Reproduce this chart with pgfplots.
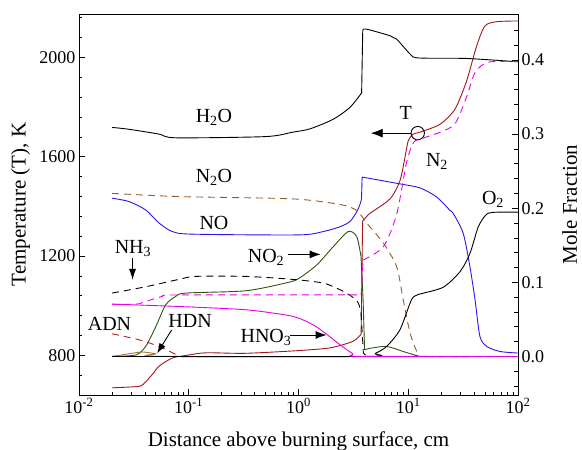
\documentclass[border=0pt]{standalone}
\usepackage{fontspec}
\setmainfont{Liberation Serif}
\usepackage{pgfplots}
\pgfplotsset{compat=1.18}
\usetikzlibrary{arrows.meta}

\definecolor{tred}{RGB}{165,20,25}
\definecolor{mag}{RGB}{230,0,230}
\definecolor{noblue}{RGB}{40,20,240}
\definecolor{ntwoo}{RGB}{150,90,40}
\definecolor{nogreen}{RGB}{45,85,15}
\definecolor{hdncol}{RGB}{165,115,55}
\definecolor{adncol}{RGB}{175,30,30}

\pgfplotsset{
  dualaxis/.style={
    scale only axis, width=439bp, height=381bp,
    at={(0,0)}, anchor=south west,
    xmin=0.01, xmax=100,
    tick align=inside,
    major tick length=6bp, minor tick length=3.5bp,
    every tick/.style={black, line width=0.7bp},
    axis line style={line width=0.9bp},
    tick label style={font=\fontsize{18bp}{20bp}\selectfont},
    label style={font=\fontsize{21bp}{24bp}\selectfont},
  },
  curve/.style={line width=0.9bp, smooth, tension=0.45},
  jump/.style={line width=0.9bp},
  dsh/.style={line width=0.9bp, dash pattern=on 7bp off 5bp},
}

\newcommand{\lab}{\fontsize{20bp}{24bp}\selectfont}

\begin{document}
\begin{tikzpicture}
% temperature, left scale
\begin{semilogxaxis}[dualaxis,
  ymin=640, ymax=2175,
  xtick={0.01,0.1,1,10,100},
  xticklabels={10\textsuperscript{-2},10\textsuperscript{-1},10\textsuperscript{0},10\textsuperscript{1},10\textsuperscript{2}},
  xtick pos=bottom, ytick pos=left,
  ytick={800,1200,1600,2000},
  minor ytick={640,720,880,960,1040,1120,1280,1360,1440,1520,1680,1760,1840,1920,2080,2160},
  yticklabel style={/pgf/number format/.cd, assume math mode=true, 1000 sep={}},
  xlabel={Distance above burning surface, cm},
  ylabel={Temperature (T), K},
  xlabel style={at={(axis description cs:0.5,-0.134)}, anchor=base},
  ylabel style={at={(axis description cs:-0.133,0.5)}, anchor=center},
]
\addplot[curve, tred] coordinates {
 (0.02,669) (0.0352,675) (0.0405,693) (0.047,725) (0.0536,756) (0.0708,789)
 (0.0937,799) (0.1426,810) (0.33,808) (1.0,819) (1.94,830) (3.13,856) (3.72,885)};
\addplot[jump, tred] coordinates {(3.72,885) (3.84,1340)};
\addplot[curve, tred] coordinates {
 (3.84,1340) (4.18,1359) (4.48,1372) (6.82,1430) (8.4,1503)
 (9.34,1598) (10.0,1664) (11.1,1691) (13,1700) (19.5,1731) (26.7,1792)
 (34,1905) (42,2046) (50,2127) (64,2144) (100,2147)};
\addplot[only marks, mark=o, mark size=6.7bp, black, mark options={line width=0.9bp}]
  coordinates {(12.2,1695)};
\draw[-{Latex[length=12bp,width=9bp]}, line width=0.9bp]
  ([xshift=-6.7bp]axis cs:12.2,1695) -- (axis cs:4.55,1695);
\end{semilogxaxis}

% mole fractions, right scale
\begin{semilogxaxis}[dualaxis,
  ymin=-0.052, ymax=0.462,
  axis x line=none, axis y line*=right, ytick pos=right,
  ytick={0,0.1,0.2,0.3,0.4},
  minor ytick={-0.04,-0.02,0.02,0.04,0.06,0.08,0.12,0.14,0.16,0.18,0.22,0.24,0.26,0.28,0.32,0.34,0.36,0.38,0.42,0.44},
  yticklabel style={/pgf/number format/.cd, assume math mode=true, fixed, fixed zerofill, precision=1},
  ylabel={Mole Fraction},
  ylabel style={at={(axis description cs:1.118,0.5)}, anchor=center},
]
% H2O
\addplot[curve, black] coordinates {
 (0.02,0.309) (0.0285,0.3065) (0.0536,0.300) (0.076,0.295) (0.5,0.2966)
 (0.88,0.3025) (1.27,0.307) (2.07,0.320) (2.94,0.336) (3.76,0.3555)};
\addplot[jump, black] coordinates {(3.76,0.3555) (3.85,0.4395)};
\addplot[curve, black] coordinates {
 (3.85,0.4395) (4.12,0.4417) (6.82,0.4327) (7.85,0.428) (10.4,0.408)
 (12.4,0.4027) (34,0.402) (100,0.3975)};
% NO
\addplot[curve, noblue] coordinates {
 (0.02,0.2135) (0.0285,0.209) (0.0405,0.1977) (0.0536,0.180) (0.0708,0.1685)
 (0.1077,0.165) (1.0,0.164) (1.68,0.1685) (2.39,0.175) (2.94,0.182)
 (3.39,0.195) (3.63,0.205) (3.75,0.212)};
\addplot[jump, noblue] coordinates {(3.75,0.212) (3.8,0.242)};
\addplot[curve, noblue] coordinates {
 (3.8,0.242) (8.4,0.2328)
 (12.8,0.2274) (18.2,0.215) (24,0.197) (25.7,0.193) (31.7,0.166)
 (36.5,0.121) (40.6,0.0765) (45,0.027) (51.9,0.0135) (68.6,0.0067) (100,0.0046)};
% N2O
\addplot[dsh, ntwoo, smooth, tension=0.45] coordinates {
 (0.02,0.220) (0.0815,0.2157) (0.88,0.2126) (2.39,0.205) (3.39,0.197)
 (4.18,0.18) (5.93,0.153) (7.85,0.121) (9.0,0.0765) (10.4,0.0315)
 (12.1,0.005) (13,0.0) (100,0.0)};
% NO2
\addplot[curve, nogreen] coordinates {
 (0.02,0.0) (0.0329,0.002) (0.0405,0.0135) (0.05,0.040) (0.0617,0.0697)
 (0.076,0.081) (0.0937,0.0855) (0.33,0.0886) (0.76,0.099) (1.0,0.105)
 (1.47,0.1236) (2.07,0.148) (2.84,0.1685) (3.39,0.1618) (3.71,0.135)};
\addplot[jump, nogreen] coordinates {(3.71,0.135) (3.88,0.0765) (4.0,0.009)};
\addplot[curve, nogreen] coordinates {
 (4.0,0.009) (4.5,0.011) (6.35,0.0135) (9.0,0.0067)
 (12.1,0.001) (15,0.0) (100,0.0)};
% NH3
\addplot[dsh, black, smooth, tension=0.45] coordinates {
 (0.02,0.0855) (0.0405,0.094) (0.0815,0.104) (0.1156,0.108) (0.33,0.108)
 (0.88,0.104) (1.68,0.099) (2.39,0.090) (3.05,0.081) (3.51,0.072)
 (3.71,0.0585)};
\addplot[dsh, black] coordinates {(3.71,0.0585) (3.85,0.02) (3.9,0.0046) (4.2,0.0)};
% ADN
\addplot[dsh, adncol, smooth, tension=0.45] coordinates {
 (0.02,0.0306) (0.0352,0.0225) (0.0536,0.0135) (0.0815,0.001) (0.1,0.0) (100,0.0)};
% HDN
\addplot[curve, hdncol] coordinates {
 (0.02,0.0) (0.0285,0.0036) (0.0378,0.006) (0.05,0.0036) (0.066,0.0) (100,0.0)};
% O2
\addplot[curve, black] coordinates {
 (0.02,0.0) (4.0,0.0) (5.0,0.004) (6.35,0.0135) (8.4,0.036) (10.7,0.0765)
 (12.1,0.083) (13,0.0845) (20.9,0.0935) (29.7,0.1146) (36.5,0.139)
 (43.5,0.175) (51.9,0.192) (64,0.1946) (100,0.1946)};
% HNO3
\addplot[curve, mag] coordinates {
 (0.02,0.0706) (0.0815,0.0674) (0.33,0.063) (0.76,0.056) (1.0,0.0518)
 (1.36,0.0427) (1.75,0.0315) (2.39,0.0158) (3.13,0.0036) (3.7,0.0) (100,0.0)};
% N2
\addplot[dsh, mag, smooth, tension=0.45] coordinates {
 (0.02,0.0705) (0.033,0.0705) (0.0405,0.074) (0.0574,0.081) (0.0815,0.083)
 (3.72,0.083)};
\addplot[dsh, mag] coordinates {(3.72,0.083) (3.88,0.13)};
\addplot[dsh, mag, smooth, tension=0.45] coordinates {
 (3.88,0.13) (5.93,0.148) (7.85,0.192) (9.66,0.262)
 (11.2,0.289) (13,0.2935) (19.5,0.3025) (26.7,0.314) (34,0.350)
 (40.6,0.383) (53.6,0.397) (100,0.398)};

% species labels
\node[anchor=base] at (rel axis cs:0.3075,0.7147) {\lab H\textsubscript{2}O};
\node[anchor=base] at (rel axis cs:0.3075,0.5583) {\lab N\textsubscript{2}O};
\node[anchor=base] at (rel axis cs:0.3075,0.4349) {\lab NO};
\node[anchor=base] at (rel axis cs:0.123,0.372) {\lab NH\textsubscript{3}};
\node[anchor=base] at (rel axis cs:0.426,0.347) {\lab NO\textsubscript{2}};
\node[anchor=base] at (rel axis cs:0.426,0.137) {\lab HNO\textsubscript{3}};
\node[anchor=base] at (rel axis cs:0.0695,0.169) {\lab ADN};
\node[anchor=base] at (rel axis cs:0.253,0.178) {\lab HDN};
\node[anchor=base] at (rel axis cs:0.744,0.7218) {\lab T};
\node[anchor=base] at (rel axis cs:0.8155,0.599) {\lab N\textsubscript{2}};
\node[anchor=base] at (rel axis cs:0.943,0.501) {\lab O\textsubscript{2}};

% pointers
\draw[-{Latex[length=11bp,width=7bp]}, line width=0.9bp]
  (rel axis cs:0.122,0.360) -- (rel axis cs:0.122,0.302);
\draw[-{Latex[length=11bp,width=8bp]}, line width=0.9bp]
  (rel axis cs:0.476,0.369) -- (rel axis cs:0.5506,0.369);
\draw[-{Latex[length=11bp,width=8bp]}, line width=0.9bp]
  (rel axis cs:0.481,0.1575) -- (rel axis cs:0.564,0.1575);
\draw[-{Latex[length=10bp,width=7bp]}, line width=0.9bp]
  (rel axis cs:0.211,0.1706) -- (rel axis cs:0.178,0.1094);
\end{semilogxaxis}

\pgfresetboundingbox
\path[use as bounding box] (-79bp,-55bp) rectangle (503bp,395bp);
\end{tikzpicture}
\end{document}
